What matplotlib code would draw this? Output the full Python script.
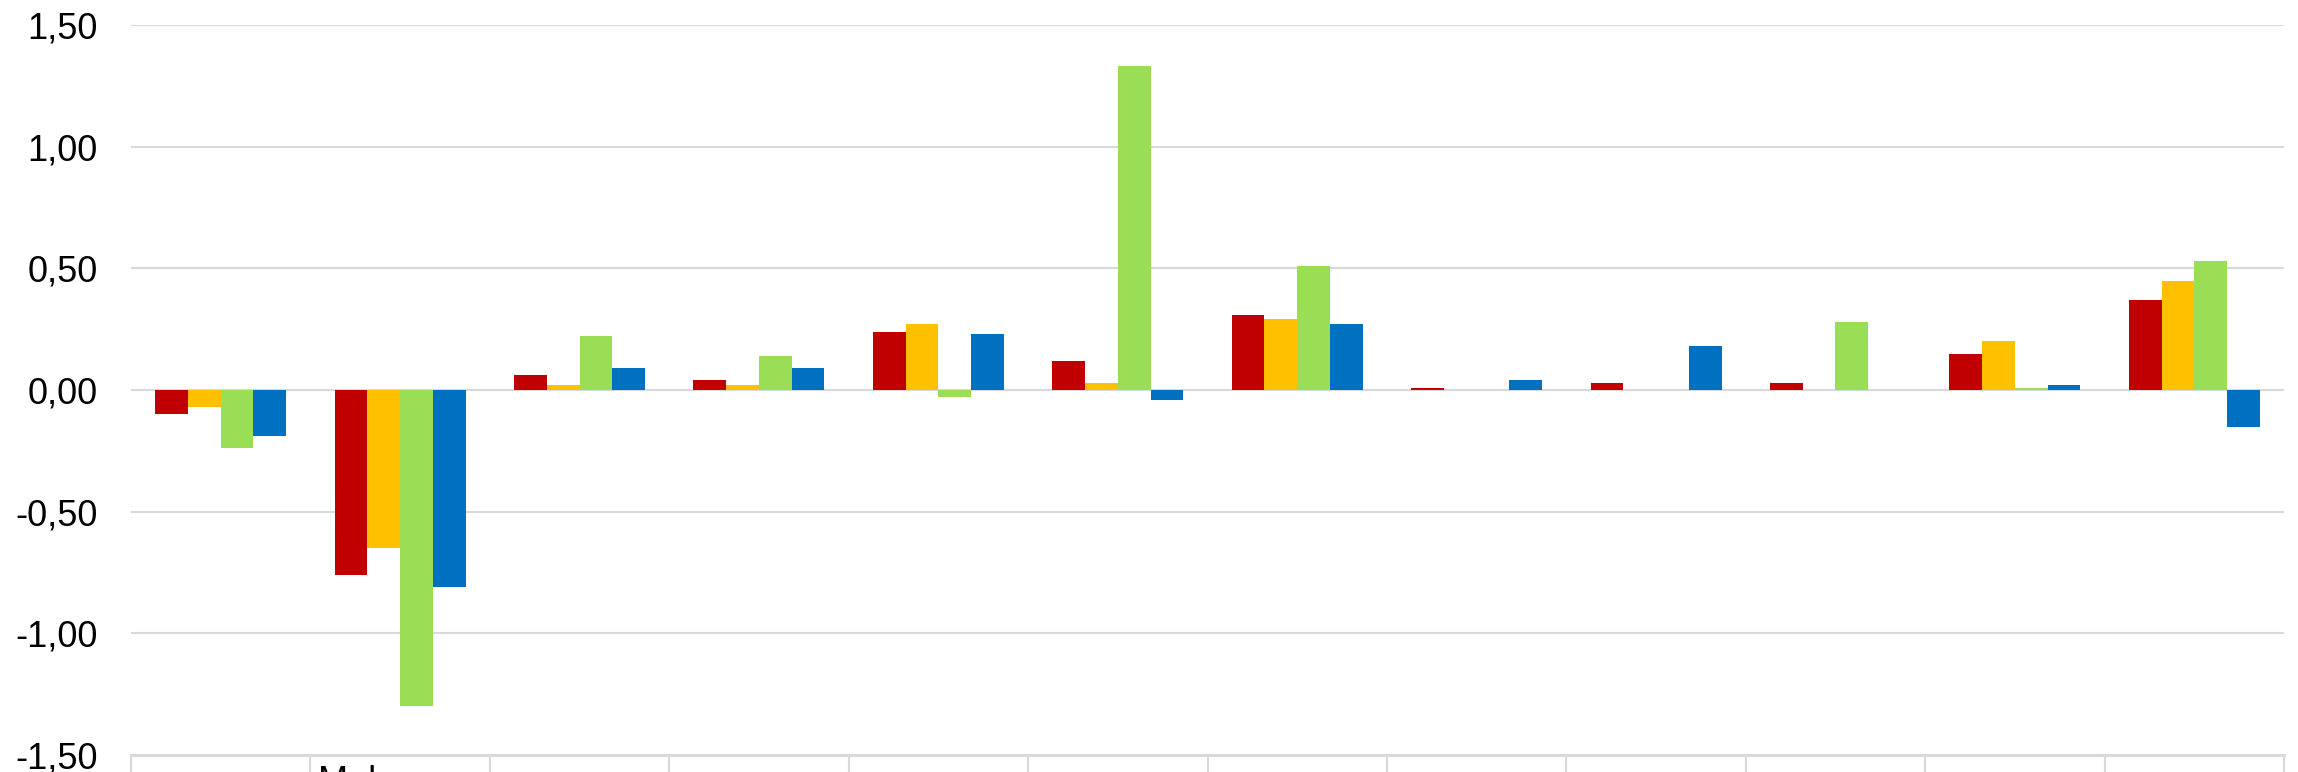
import matplotlib
matplotlib.use("Agg")
import matplotlib.pyplot as plt
import matplotlib.transforms as mtransforms
import numpy as np

plt.rcParams['font.family'] = ['Liberation Sans', 'DejaVu Sans']

categories = ["", "Mal", "", "", "", "", "", "", "", "", "", ""]
series_red = [-0.10, -0.76, 0.06, 0.04, 0.24, 0.12, 0.31, 0.01, 0.03, 0.03, 0.15, 0.37]
series_yellow = [-0.07, -0.65, 0.02, 0.02, 0.27, 0.03, 0.29, 0.00, 0.00, 0.00, 0.20, 0.45]
series_green = [-0.24, -1.30, 0.22, 0.14, -0.03, 1.33, 0.51, 0.00, 0.00, 0.28, 0.01, 0.53]
series_blue = [-0.19, -0.81, 0.09, 0.09, 0.23, -0.04, 0.27, 0.04, 0.18, 0.00, 0.02, -0.15]
yticks = [-1.5, -1.0, -0.5, 0.0, 0.5, 1.0, 1.5]
ytick_labels = ["-1,50", "-1,00", "-0,50", "0,00", "0,50", "1,00", "1,50"]

colors = ["#C00000", "#FFC000", "#9ADE56", "#0070C0"]
series = [series_red, series_yellow, series_green, series_blue]

W, H = 2298, 772
fig = plt.figure(figsize=(W / 100, H / 100), dpi=100)
ax = fig.add_axes([131 / W, (H - 755) / H, (2284 - 131) / W, (755 - 25) / H])

x = np.arange(len(categories))
bw = 0.1825
for i, (vals, c) in enumerate(zip(series, colors)):
    ax.bar(x + (i - 1.5) * bw, vals, width=bw, color=c, zorder=3, linewidth=0)

ax.set_xlim(-0.5, len(categories) - 0.5)
ax.set_ylim(-1.5, 1.5)
ax.set_yticks(yticks)
ax.set_yticklabels(ytick_labels, fontsize=26)
ax.tick_params(axis='y', length=0, pad=24)
ax.yaxis.grid(True, color="#D9D9D9", linewidth=1.5, zorder=0)
ax.set_axisbelow(True)

ax.set_xticks([])
ax.set_xticks(np.arange(-0.5, len(categories)), minor=True)
ax.tick_params(axis='x', which='minor', length=20, width=1.5, color="#D9D9D9", labelbottom=False)
ax.tick_params(axis='x', which='major', length=0, labelbottom=False)

for s in ['top', 'right', 'left']:
    ax.spines[s].set_visible(False)
ax.spines['bottom'].set_color("#D9D9D9")
ax.spines['bottom'].set_linewidth(2.2)

trans = mtransforms.blended_transform_factory(ax.transData, fig.transFigure)
for i, lab in enumerate(categories):
    if lab:
        fig.text(i - 0.5 + 0.045, 7 / H, lab, transform=trans, ha='left', va='top', fontsize=26)

fig.savefig("out.png", dpi=100)
